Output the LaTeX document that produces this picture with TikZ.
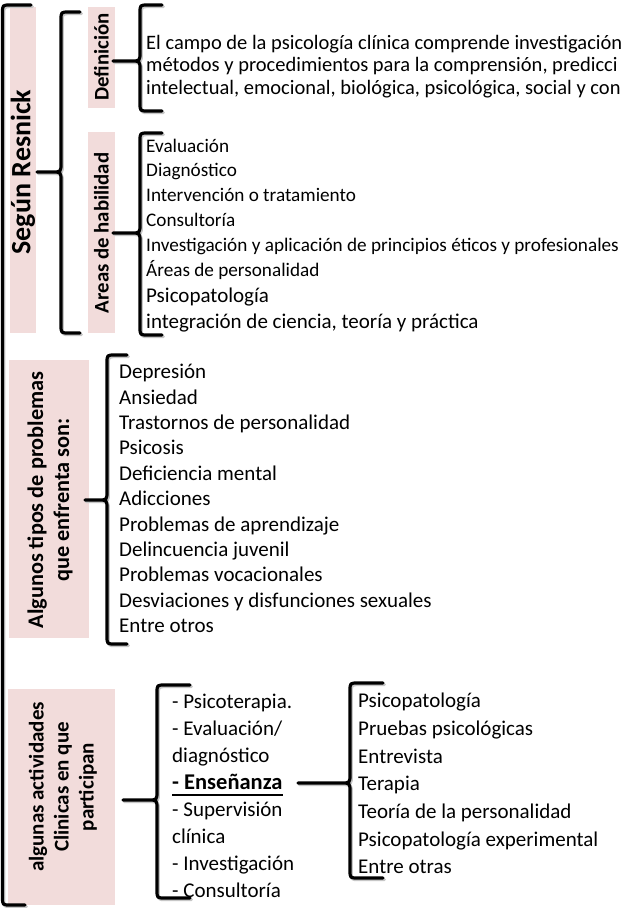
\documentclass[tikz,border=0pt]{standalone}
\usepackage{fontspec}
\setmainfont{Carlito}
\definecolor{boxpink}{HTML}{F2DCDB}
\newcommand\fs[2]{\fontsize{#1}{#2}\selectfont}
% x, tipx, top, mid, bottom, hookx
\newcommand\mybrace[6]{%
 \foreach \sty/\sx/\sy in {brcsh/1.3/1.6, brc/0/0}{%
 \draw[\sty, shift={(\sx,\sy)}] (#6,#3) -- ({#1+8},#3) .. controls (#1,#3) .. (#1,{#3+8})
   -- (#1,{#4-9}) .. controls (#1,#4) .. ({#1-9},#4) -- (#2,#4) -- ({#1-9},#4)
   .. controls (#1,#4) .. (#1,{#4+9}) -- (#1,{#5-8}) .. controls (#1,#5) .. ({#1+8},#5) -- (#6,#5);}}
\begin{document}
\begin{tikzpicture}[x=1pt,y=-1pt,
  brc/.style={line width=3.2pt, line cap=round, line join=round},
  brcsh/.style={line width=3.2pt, line cap=round, line join=round, draw=black!22},
  lbl/.style={rotate=90, font=\bfseries\fs{20.8}{25}, align=center, inner sep=0pt},
  itm/.style={anchor=base west, inner sep=0pt, font=\fs{21}{25}},
  itmd/.style={anchor=base west, inner sep=0pt, font=\fs{20.5}{25}},
  itms/.style={anchor=base west, inner sep=0pt, font=\fs{19.2}{23}},
]
\useasboundingbox[fill=white] (0,0) rectangle (621,908);

% pink label boxes
\fill[boxpink] (10,7) rectangle (36,333);
\fill[boxpink] (88,7) rectangle (115,108);
\fill[boxpink] (88,132) rectangle (115,333);
\fill[boxpink] (9,360) rectangle (89,638);
\fill[boxpink] (8,689) rectangle (115,905);

% labels
\node[lbl, font=\bfseries\fs{28}{30}] (resnick) at (23,172) {Según Resnick};
\node[lbl] (defin) at (101.5,57) {Definición};
\node[lbl] (areas) at (101.5,233) {Areas de habilidad};
\node[lbl, font=\bfseries\fs{22.3}{26}] (probl) at (50,500) {Algunos tipos de problemas\\que enfrenta son:};
\node[lbl, font=\bfseries\fs{21}{25}] (activ) at (63,787) {algunas actividades\\Clinicas en que\\participan};

% outer bracket
\foreach \sty/\sx/\sy in {brcsh/1.3/1.6, brc/0/0}{%
\draw[\sty, shift={(\sx,\sy)}] (31,5) -- (10.5,5) .. controls (2.5,5) .. (2.5,13) -- (2.5,897)
  .. controls (2.5,905) .. (10.5,905) -- (25,905);}

% braces
\mybrace{61}{37}{12}{172}{333}{80}
\mybrace{140}{113}{5}{61}{111}{162}
\mybrace{140}{113}{133}{233}{335}{162}
\mybrace{107}{85}{355}{500}{644}{127}
\mybrace{157}{123}{685}{800}{898}{190}
\mybrace{350}{298}{683}{783}{878}{383}

% definition
\node[itmd] (d1) at (146,49) {El campo de la psicología clínica comprende investigación};
\node[itmd] (d2) at (146,71) {métodos y procedimientos para la comprensión, predicci};
\node[itmd] (d3) at (146,94) {intelectual, emocional, biológica, psicológica, social y con};

% areas de habilidad
\node[itms] (h1) at (146,152.3) {Evaluación};
\node[itms] (h2) at (146,176.8) {Diagnóstico};
\node[itms] (h3) at (146,201.3) {Intervención o tratamiento};
\node[itms] (h4) at (146,226.3) {Consultoría};
\node[itms] (h5) at (146,251.8) {Investigación y aplicación de principios éticos y profesionales};
\node[itms] (h6) at (146,276.8) {Áreas de personalidad};
\node[itm] (h7) at (146,302.7) {Psicopatología};
\node[itm] (h8) at (146,328.2) {integración de ciencia, teoría y práctica};

% problemas
\foreach \t [count=\i] in {Depresión, Ansiedad, Trastornos de personalidad, Psicosis,
  Deficiencia mental, Adicciones, Problemas de aprendizaje, Delincuencia juvenil,
  Problemas vocacionales, Desviaciones y disfunciones sexuales, Entre otros}
  \node[itm] (p\i) at (119,{378.7+25.4*(\i-1)}) {\t};

% actividades
\node[itm] (a1) at (172,708.7) {- Psicoterapia.};
\node[itm] (a2) at (172,735.7) {- Evaluación/};
\node[itm] (a3) at (172,762.7) {diagnóstico};
\node[itm, font=\bfseries\fs{22.5}{26}] (a4) at (172,789) {- Enseñanza};
\draw[line width=1.6pt] ([yshift=-6pt]a4.base west) -- ([yshift=-6pt]a4.base east);
\node[itm] (a5) at (172,816.7) {- Supervisión};
\node[itm] (a6) at (172,843.7) {clínica};
\node[itm] (a7) at (172,870.7) {- Investigación};
\node[itm] (a8) at (172,897.7) {- Consultoría};

% ensenanza list
\foreach \t [count=\i] in {Psicopatología, Pruebas psicológicas, Entrevista, Terapia,
  Teoría de la personalidad, Psicopatología experimental, Entre otras}
  \node[itm] (e\i) at (358,{707.7+27.7*(\i-1)}) {\t};
\end{tikzpicture}
\end{document}
